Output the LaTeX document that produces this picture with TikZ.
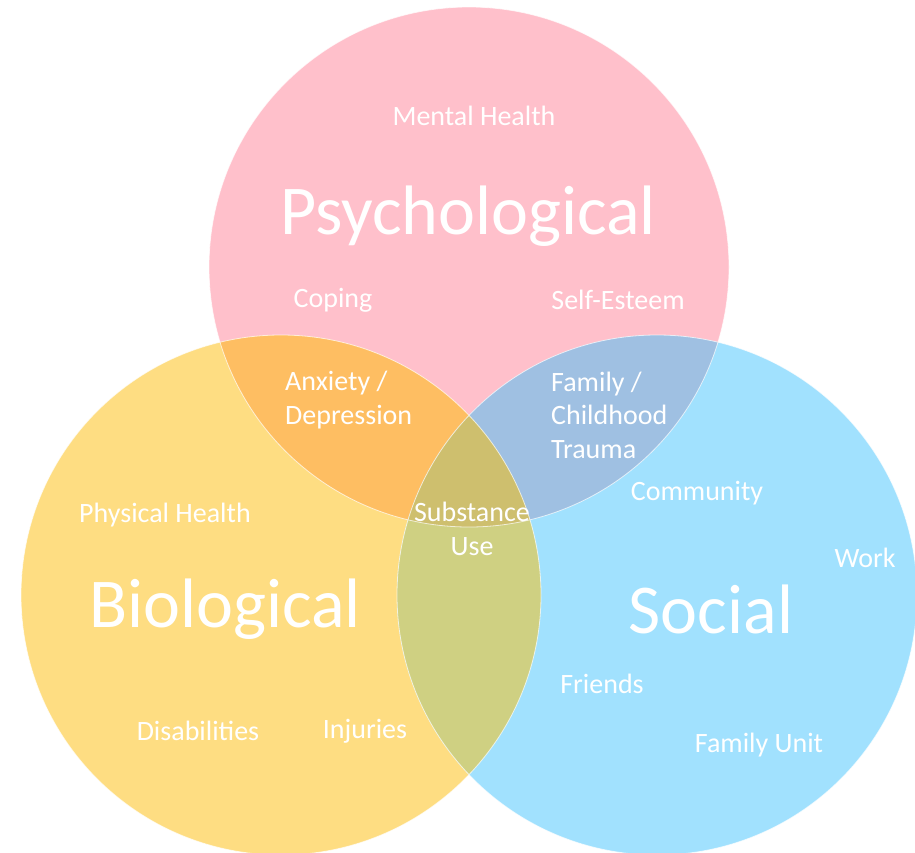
\documentclass[tikz,border=0pt]{standalone}
\usepackage{fontspec}
\setmainfont{Carlito}
\definecolor{cpink}{HTML}{FFC0CB}
\definecolor{cyel}{HTML}{FEDD82}
\definecolor{cblue}{HTML}{A1E1FE}
\definecolor{cpy}{HTML}{FEBE62}
\definecolor{cpb}{HTML}{9FC0E2}
\definecolor{cyb}{HTML}{CFD082}
\definecolor{call}{HTML}{CEBF6E}
\begin{document}
\begin{tikzpicture}[x=1pt,y=-1pt,
  small/.style={text=white,font=\fontsize{28}{33.5}\selectfont,inner sep=0pt},
  big/.style={text=white,font=\fontsize{70}{80}\selectfont,inner sep=0pt},
  rim/.style={draw=white,line width=0.8pt,draw opacity=0.7}]
\useasboundingbox (0,0) rectangle (915,852);
\coordinate (P) at (469,267);
\coordinate (B) at (281,595);
\coordinate (S) at (657,595);
\def\R{260}
\fill[cpink] (P) circle (\R);
\fill[cyel] (B) circle (\R);
\fill[cblue] (S) circle (\R);
\begin{scope}
  \clip (P) circle (\R);
  \fill[cpy] (B) circle (\R);
  \fill[cpb] (S) circle (\R);
\end{scope}
\begin{scope}
  \clip (B) circle (\R);
  \fill[cyb] (S) circle (\R);
  \clip (S) circle (\R);
  \fill[call] (P) circle (\R);
\end{scope}
\draw[rim] (P) circle (\R);
\draw[rim] (B) circle (\R);
\draw[rim] (S) circle (\R);
\node[small] (mh) at (474,116) {Mental Health};
\node[big] (psy) at (468,216) {Psychological};
\node[small] (cop) at (333,300) {Coping};
\node[small] (se) at (618,300) {Self-Esteem};
\node[small,align=left,anchor=west] (ad) at (285,400) {Anxiety /\\Depression};
\node[small,align=left,anchor=west] (fct) at (551,415) {Family /\\Childhood\\Trauma};
\node[small,align=center] (su) at (472,529) {Substance\\Use};
\node[small] (ph) at (165,515) {Physical Health};
\node[small] (com) at (697,493) {Community};
\node[small] (wk) at (865,558) {Work};
\node[big] (bio) at (225,609) {Biological};
\node[big] (soc) at (711,609) {Social};
\node[small] (fr) at (602,684) {Friends};
\node[small] (dis) at (198,731) {Disabilities};
\node[small] (inj) at (365,731) {Injuries};
\node[small] (fu) at (759,745) {Family Unit};
\end{tikzpicture}
\end{document}
